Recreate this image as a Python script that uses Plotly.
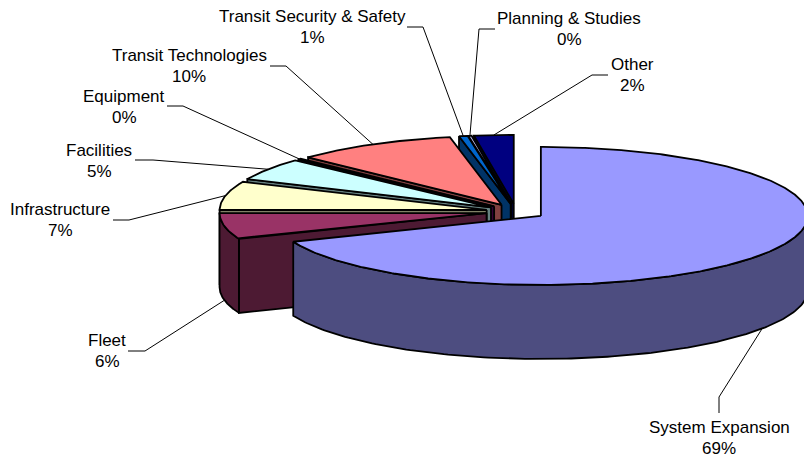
import numpy as np
import plotly.graph_objects as go

# Shares of the programme budget, in percent, clockwise from twelve o'clock
categories = ["System Expansion", "Fleet", "Infrastructure", "Facilities", "Equipment",
              "Transit Technologies", "Transit Security & Safety", "Planning & Studies", "Other"]
shares = [68.9, 6.1, 6.7, 5.2, 0.2, 9.8, 0.52, 0.2, 2.38]

top_colors = ["#9999FF", "#993366", "#FFFFCC", "#CCFFFF", "#660066",
              "#FF8080", "#0066CC", "#CCCCFF", "#000080"]
wall_colors = ["#4D4D80", "#4D1A33", "#808066", "#668080", "#330033",
               "#804040", "#003366", "#666680", "#000040"]

# Pie projection, in page pixels
CENTER = (516.0, 211.6)
RX, RY = 267.0, 69.0
DEPTH = 74.0
EXPLODE = 30.0
OUTLINE = 1.8

# Label centres (name line, share line) and the elbow of each leader line
label_pos = {
    "System Expansion": (719, 427, 448, [(719, 413), (719, 397)]),
    "Fleet": (107, 340, 361, [(128, 351), (145, 351)]),
    "Infrastructure": (60, 209, 230, [(113, 220), (129, 220)]),
    "Facilities": (99, 150, 171, [(135, 160), (153, 160)]),
    "Equipment": (124, 96, 117, [(167, 106), (183, 106)]),
    "Transit Technologies": (189, 55, 76, [(270, 66), (286, 66)]),
    "Transit Security & Safety": (312, 16, 37, [(407, 27), (423, 27)]),
    "Planning & Studies": (569, 18, 39, [(495, 29), (479, 29)]),
    "Other": (632, 64, 85, [(608, 75), (592, 75)]),
}


def rim(apex, deg):
    """Point on the elliptical rim, with angles clockwise from the top."""
    a = np.radians(deg)
    return apex[0] + RX * np.sin(a), apex[1] - RY * np.cos(a)


def polygon(fig, xs, ys, color, name):
    fig.add_trace(go.Scatter(x=list(xs), y=list(ys), mode="lines", fill="toself",
                             fillcolor=color, line=dict(color="black", width=OUTLINE),
                             name=name, hoverinfo="name", showlegend=False))


total = sum(shares)
edges = np.cumsum([0.0] + shares) / total * 360.0
slices = []
for i, cat in enumerate(categories):
    start, end = edges[i], edges[i + 1]
    mid = (start + end) / 2
    m = np.radians(mid)
    apex = (CENTER[0] + EXPLODE * np.sin(m),
            CENTER[1] - EXPLODE * (RY / RX) * np.cos(m))
    slices.append(dict(i=i, cat=cat, start=start, end=end, mid=mid, apex=apex))

fig = go.Figure()

# Paint from the back of the pie to the front; the largest slice sits in front
for s in reversed(slices):
    i, apex, start, end = s["i"], s["apex"], s["start"], s["end"]

    if 180 < start < 360:
        rx0, ry0 = rim(apex, start)
        polygon(fig, [apex[0], rx0, rx0, apex[0], apex[0]],
                [apex[1], ry0, ry0 + DEPTH, apex[1] + DEPTH, apex[1]],
                wall_colors[i], s["cat"])

    lo, hi = max(start, 90), min(end, 270)
    if hi > lo:
        t = np.linspace(lo, hi, 160)
        ax, ay = rim(apex, t)
        polygon(fig, np.r_[ax, ax[::-1], ax[0]], np.r_[ay, ay[::-1] + DEPTH, ay[0]],
                wall_colors[i], s["cat"])

    t = np.linspace(start, end, max(8, int((end - start) * 2)))
    ax, ay = rim(apex, t)
    polygon(fig, np.r_[apex[0], ax, apex[0]], np.r_[apex[1], ay, apex[1]],
            top_colors[i], s["cat"])

# Leader lines run from the label to the rim at the middle of each slice
for s in slices:
    cx, name_y, pct_y, elbow = label_pos[s["cat"]]
    ex, ey = rim(s["apex"], s["mid"])
    if 90 < s["mid"] < 270:
        ey += DEPTH
    fig.add_trace(go.Scatter(x=[elbow[0][0], elbow[1][0], ex], y=[elbow[0][1], elbow[1][1], ey],
                             mode="lines", line=dict(color="black", width=1),
                             hoverinfo="skip", showlegend=False))
    for text, y in ((s["cat"], name_y), (f"{round(shares[s['i']])}%", pct_y)):
        fig.add_annotation(x=cx, y=y, xref="x", yref="y", text=text, showarrow=False,
                           xanchor="center", yanchor="middle",
                           font=dict(family="Liberation Sans", size=17, color="black"))

fig.update_layout(
    width=804, height=460, margin=dict(l=0, r=0, t=0, b=0),
    paper_bgcolor="white", plot_bgcolor="white",
    xaxis=dict(range=[0, 804], visible=False, fixedrange=True),
    yaxis=dict(range=[460, 0], visible=False, fixedrange=True),
)
fig.write_html("out.html", config={"displayModeBar": False})
